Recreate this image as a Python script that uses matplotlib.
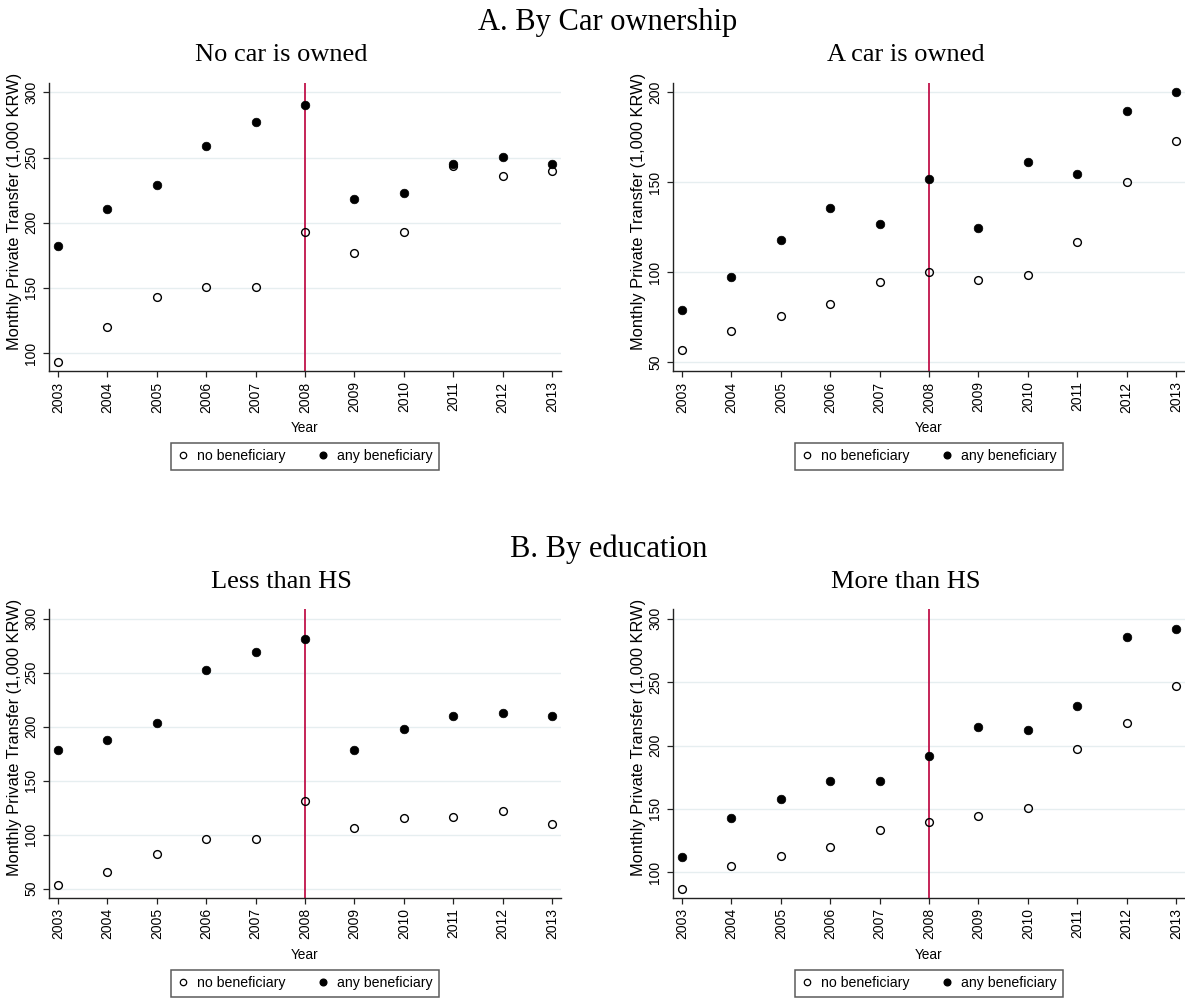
import matplotlib

matplotlib.use("Agg")
import matplotlib.pyplot as plt  # noqa: E402
from matplotlib.lines import Line2D  # noqa: E402


YEARS = [2003, 2004, 2005, 2006, 2007, 2008, 2009, 2010, 2011, 2012, 2013]
POLICY_YEAR = 2008

NOCAR_NONE = [93.1, 119.7, 143.0, 150.6, 150.4, 192.8, 177.0, 192.8, 243.2, 236.1, 239.6]
NOCAR_ANY = [182.1, 210.7, 228.9, 259.1, 277.0, 290.3, 218.4, 222.5, 245.0, 250.1, 244.8]
CAR_NONE = [56.7, 67.4, 75.7, 82.6, 94.6, 100.0, 95.6, 98.3, 116.9, 150.4, 173.1]
CAR_ANY = [79.3, 97.2, 117.8, 135.6, 126.9, 151.9, 124.8, 161.1, 154.4, 189.4, 200.4]
LESSHS_NONE = [53.4, 65.1, 82.4, 96.0, 96.0, 130.9, 105.9, 115.4, 116.0, 122.2, 109.9]
LESSHS_ANY = [178.1, 187.7, 203.7, 252.2, 268.8, 281.5, 178.7, 198.1, 210.2, 213.0, 209.6]
MOREHS_NONE = [86.9, 105.3, 112.9, 120.2, 133.1, 140.0, 144.2, 150.5, 197.0, 217.7, 246.9]
MOREHS_ANY = [112.1, 142.8, 158.1, 172.3, 171.8, 192.0, 214.6, 212.0, 231.4, 285.5, 291.9]

NOCAR_TICKS = [100, 150, 200, 250, 300]
CAR_TICKS = [50, 100, 150, 200]
LESSHS_TICKS = [50, 100, 150, 200, 250, 300]
MOREHS_TICKS = [100, 150, 200, 250, 300]

SERIES_LABELS = ["no beneficiary", "any beneficiary"]
Y_LABEL = "Monthly Private Transfer (1,000 KRW)"
X_LABEL = "Year"

SANS = ["Liberation Sans", "DejaVu Sans"]
SERIF = ["Liberation Serif", "DejaVu Serif"]
RED = "#c0124a"
GRID = "#e6eef0"

W, H = 1185, 998


def _panel(fig, rect, title, none_vals, any_vals, yticks, ylim):
    left, top, width, height = rect
    ax = fig.add_axes([left / W, 1 - (top + height) / H, width / W, height / H])
    ax.axvline(POLICY_YEAR, color=RED, lw=1.3, zorder=1.5)
    ax.plot(YEARS, none_vals, ls="none", marker="o", ms=5.6, mfc="none", mec="black",
            mew=1.0, zorder=3)
    ax.plot(YEARS, any_vals, ls="none", marker="o", ms=6.2, mfc="black", mec="black",
            mew=0.5, zorder=3)

    ax.set_xlim(2002.81, 2013.18)
    ax.set_ylim(*ylim)
    ax.set_xticks(YEARS)
    ax.set_yticks(yticks)
    ax.yaxis.grid(True, color=GRID, lw=1.0)
    ax.set_axisbelow(True)
    for side in ("top", "right"):
        ax.spines[side].set_visible(False)
    for side in ("left", "bottom"):
        ax.spines[side].set_linewidth(1.0)
        ax.spines[side].set_color("#222222")
    ax.tick_params(axis="both", length=4.5, width=0.9, color="#222222", labelsize=10, pad=3)
    for lab in ax.get_xticklabels():
        lab.set_rotation(90)
        lab.set_fontfamily(SANS)
    for lab in ax.get_yticklabels():
        lab.set_rotation(90)
        lab.set_va("center")
        lab.set_fontfamily(SANS)

    # stata puts the y title a bit above the axis middle
    ax.set_ylabel(Y_LABEL, family=SANS, fontsize=11.8)
    ax.yaxis.set_label_coords(-0.053, 0.555)
    ax.set_xlabel(X_LABEL, family=SANS, fontsize=9.8)
    ax.xaxis.set_label_coords(0.5, -0.175)

    handles = [
        Line2D([], [], ls="none", marker="o", ms=4.6, mfc="none", mec="black", mew=0.9),
        Line2D([], [], ls="none", marker="o", ms=4.8, mfc="black", mec="black"),
    ]
    leg = ax.legend(handles, SERIES_LABELS, loc="upper center", bbox_to_anchor=(0.5, -0.25),
                    ncol=2, frameon=True, fancybox=False, edgecolor="#333333",
                    prop={"family": SANS, "size": 10.2}, handlelength=0.8,
                    handletextpad=0.6, columnspacing=2.2, borderpad=0.45,
                    borderaxespad=0)
    leg.get_frame().set_linewidth(1.1)

    fig.text((left - 48.7 + 281.7) / W, 1 - (top - 21.7) / H, title, family=SERIF,
             fontsize=19, ha="center", va="baseline")
    return ax


def main():
    fig = plt.figure(figsize=(W / 100, H / 100), dpi=100)
    fig.patch.set_facecolor("white")

    fig.text(608 / W, 1 - 30 / H, "A. By Car ownership", family=SERIF, fontsize=22,
             ha="center", va="baseline")
    fig.text(609 / W, 1 - 557 / H, "B. By education", family=SERIF, fontsize=22,
             ha="center", va="baseline")

    _panel(fig, (48.7, 82.7, 512.3, 288.3), "No car is owned",
           NOCAR_NONE, NOCAR_ANY, NOCAR_TICKS, (86.2, 307.4))
    _panel(fig, (672.7, 82.7, 512.3, 288.3), "A car is owned",
           CAR_NONE, CAR_ANY, CAR_TICKS, (45.2, 205.3))
    _panel(fig, (48.7, 609.3, 512.3, 288.4), "Less than HS",
           LESSHS_NONE, LESSHS_ANY, LESSHS_TICKS, (41.7, 308.7))
    _panel(fig, (672.7, 609.3, 512.3, 288.4), "More than HS",
           MOREHS_NONE, MOREHS_ANY, MOREHS_TICKS, (80.0, 307.4))

    fig.savefig("out.png", dpi=100, facecolor="white")
    plt.close(fig)


if __name__ == "__main__":
    main()
